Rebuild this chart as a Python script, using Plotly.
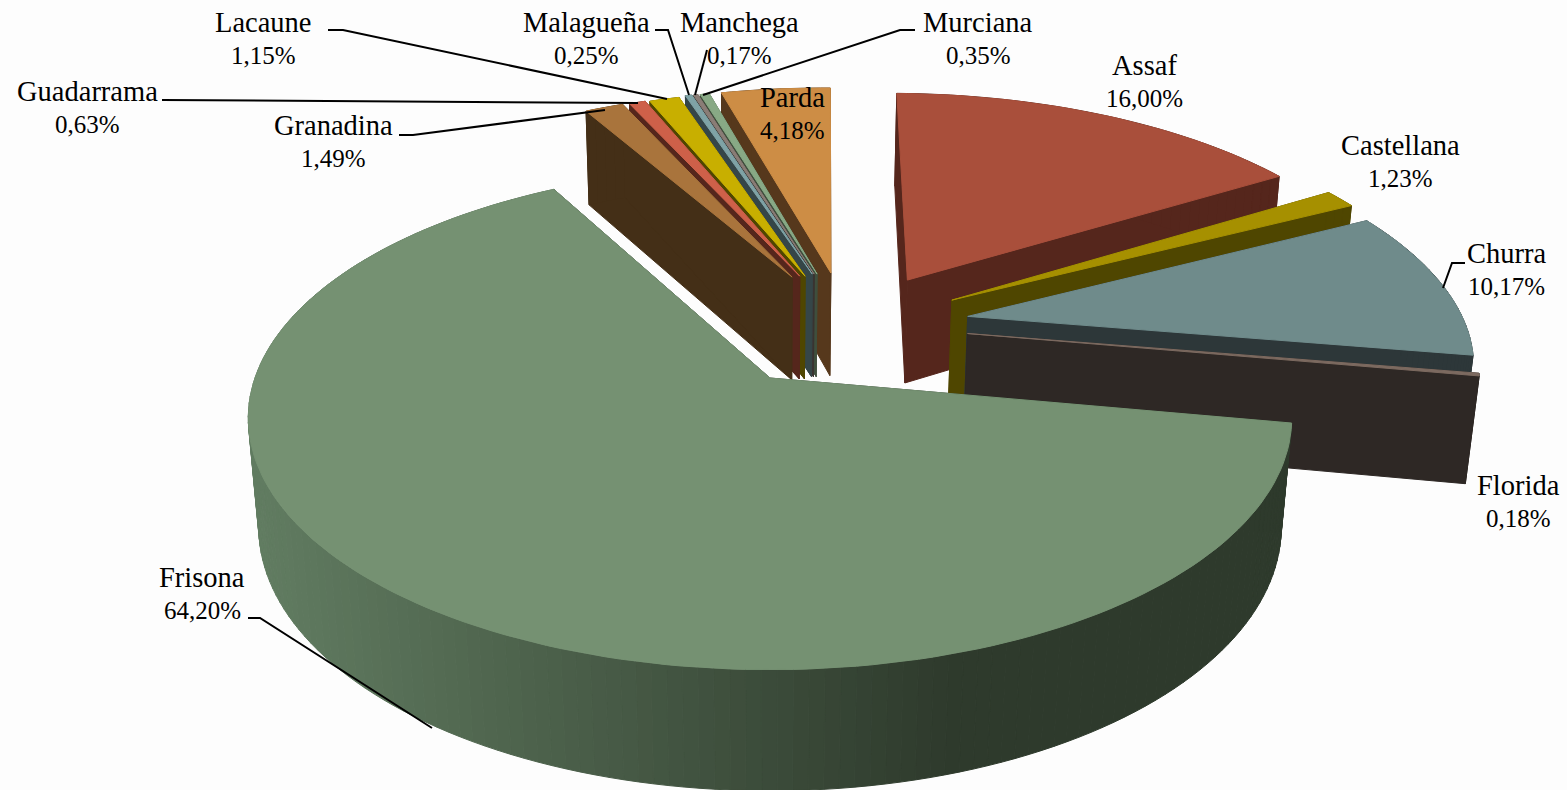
import numpy as np
import plotly.graph_objects as go

# ---- data ----
categories = ["Assaf", "Castellana", "Churra", "Florida", "Frisona", "Granadina",
              "Guadarrama", "Lacaune", "Malagueña", "Manchega", "Murciana", "Parda"]
values = [16.00, 1.23, 10.17, 0.18, 64.20, 1.49, 0.63, 1.15, 0.25, 0.17, 0.35, 4.18]

# ---- styles ----
top_colors = ["#A94F3B", "#A69000", "#6F8B8B", "#7C6A60", "#759172", "#A9743C",
              "#CE6049", "#C8AF00", "#7FA3A6", "#8A7D76", "#88A985", "#CD8D45"]
wall_colors = ["#55261C", "#4F4600", "#2D3739", "#2E2825", "#2E3A2C", "#442F17",
               "#55261C", "#4F4600", "#354648", "#3A3330", "#3F4F3D", "#56381C"]
# explode offset of each slice, in units of the pie radius
explode_x = [0.285, 0.372, 0.40, 0.395, 0.0, 0.046, 0.062, 0.073, 0.088, 0.092, 0.098, 0.127]
explode_y = [0.427, 0.335, 0.262, 0.187, 0.0, 0.441, 0.445, 0.445, 0.455, 0.455, 0.455, 0.46]
radius = [1.0, 1.01, 1.0, 1.0, 1.0, 1.0, 1.0, 1.0, 1.0, 1.0, 1.0, 1.0]
draw_order = ["Parda", "Murciana", "Manchega", "Malagueña", "Lacaune", "Guadarrama", "Granadina",
              "Assaf", "Castellana", "Churra", "Florida", "Frisona"]
# label centres and leader lines (page layout)
label_pos = {"Assaf": (1144, 82), "Castellana": (1400, 162), "Churra": (1506, 270), "Florida": (1518, 502),
             "Frisona": (202, 594), "Granadina": (333, 142), "Guadarrama": (87, 108), "Lacaune": (263, 39),
             "Malagueña": (586, 39), "Manchega": (739, 39), "Murciana": (978, 39), "Parda": (792, 114)}
leaders = [[(328, 30), (343, 30), (667, 99)],
           [(162, 100), (638, 103)],
           [(399, 135), (413, 135), (605, 110)],
           [(655, 30), (668, 30), (689, 95)],
           [(707, 50), (695, 95)],
           [(915, 30), (900, 30), (703, 95)],
           [(1465, 263), (1452, 263), (1443, 288)],
           [(248, 618), (260, 618), (432, 728)]]

START_DEG = 1.0
CX, CY, RX, RY, HEIGHT, P, Q = 770, 378, 515, 245, 110, 0.16, 0.02


def project(X, Y, z=0.0):
    d = 1 + P * np.asarray(Y) + Q * z
    return CX + RX * np.asarray(X) / d, CY - RY * np.asarray(Y) / d + HEIGHT * z / d


def mix(c1, c2, t):
    a = [int(c1[i:i + 2], 16) for i in (1, 3, 5)]
    b = [int(c2[i:i + 2], 16) for i in (1, 3, 5)]
    return "#%02X%02X%02X" % tuple(int(round(u + (v - u) * t)) for u, v in zip(a, b))


fig = go.Figure()


def poly(xs, ys, color):
    fig.add_trace(go.Scatter(x=list(xs) + [xs[0]], y=list(ys) + [ys[0]], mode="lines", fill="toself",
                             fillcolor=color, line=dict(color=color, width=1),
                             hoverinfo="skip", showlegend=False))


total = sum(values)
edges = START_DEG + np.concatenate([[0], np.cumsum(values)]) * 360 / total
for name in draw_order:
    i = categories.index(name)
    a0, a1 = np.radians(edges[i]), np.radians(edges[i + 1])
    ox, oy, r = explode_x[i], explode_y[i], radius[i]
    n = max(2, int(np.degrees(a1 - a0) / 1.5) + 2)
    th = np.linspace(a0, a1, n)
    ax, ay = ox + r * np.sin(th), oy + r * np.cos(th)

    # cut faces
    for t in (a0, a1):
        ex, ey = ox + r * np.sin(t), oy + r * np.cos(t)
        x1, y1 = project([ox, ex], [oy, ey], 0.0)
        x2, y2 = project([ex, ox], [ey, oy], 1.0)
        poly(np.r_[x1, x2], np.r_[y1, y2], wall_colors[i])

    # outer rim, in strips
    for k in range(n - 1):
        x1, y1 = project(ax[k:k + 2], ay[k:k + 2], 0.0)
        x2, y2 = project(ax[k:k + 2][::-1], ay[k:k + 2][::-1], 1.0)
        if name == "Frisona":
            t = np.clip((x1.mean() - 255) / (950 - 255), 0, 1)
            c = mix("#617C61", wall_colors[i], t)
        else:
            c = wall_colors[i]
        poly(np.r_[x1, x2], np.r_[y1, y2], c)

    # top face
    tx, ty = project(np.r_[ox, ax], np.r_[oy, ay], 0.0)
    poly(tx, ty, top_colors[i])

for line in leaders:
    fig.add_trace(go.Scatter(x=[p[0] for p in line], y=[p[1] for p in line], mode="lines",
                             line=dict(color="#000000", width=2), hoverinfo="skip", showlegend=False))

for name, v in zip(categories, values):
    lx, ly = label_pos[name]
    fig.add_annotation(x=lx, y=ly - 16.5, xref="x", yref="y", showarrow=False, text=name,
                       font=dict(family="Liberation Serif", size=28.5, color="#000000"))
    fig.add_annotation(x=lx, y=ly + 16.5, xref="x", yref="y", showarrow=False,
                       text=f"{v:.2f}%".replace(".", ","),
                       font=dict(family="Liberation Serif", size=25, color="#000000"))

fig.update_layout(width=1567, height=790, autosize=False, margin=dict(l=0, r=0, t=0, b=0),
                  paper_bgcolor="#FDFDFD", plot_bgcolor="#FDFDFD",
                  xaxis=dict(range=[0, 1567], visible=False, fixedrange=True),
                  yaxis=dict(range=[790, 0], visible=False, fixedrange=True))
fig.write_html("out.html", config={"displayModeBar": False},
               post_script="document.body.style.margin='0';document.body.style.overflow='hidden';")
